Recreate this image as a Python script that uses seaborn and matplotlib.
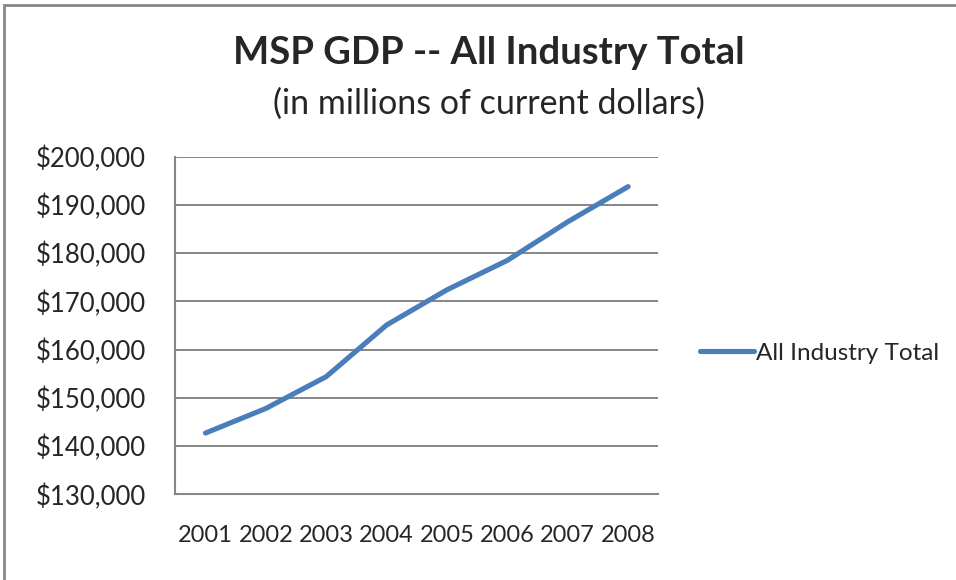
import pandas as pd
import matplotlib.pyplot as plt
import matplotlib.patches as patches
from matplotlib.ticker import FuncFormatter, FixedLocator
import seaborn as sns

# data (millions of current dollars)
years = ["2001", "2002", "2003", "2004", "2005", "2006", "2007", "2008"]
gdp = [142700, 147800, 154400, 165100, 172400, 178500, 186500, 193800]
series_name = "All Industry Total"

df = pd.DataFrame({"pos": range(len(years)), "year": years, "gdp": gdp, "series": series_name})

sns.set_style("white")
plt.rcParams["font.family"] = ["Lato", "DejaVu Sans"]

grey = "#868686"
blue = "#4A7EBB"

fig = plt.figure(figsize=(9.56, 5.8), dpi=100)
ax = fig.add_axes([175.3 / 956, 85.7 / 580, 483 / 956, 337.6 / 580])

sns.lineplot(data=df, x="pos", y="gdp", hue="series", palette=[blue],
             linewidth=3.7, solid_capstyle="round", ax=ax, legend=False)

ax.set_xlim(-0.5, len(years) - 0.5)
ax.set_ylim(130000, 200000)
ax.set_yticks(range(130000, 200001, 10000))
ax.yaxis.set_major_formatter(FuncFormatter(lambda v, p: f"${v:,.0f}"))

# category boundaries get tick marks, labels sit at the centres
ax.xaxis.set_major_locator(FixedLocator([i - 0.5 for i in range(len(years) + 1)]))
ax.xaxis.set_minor_locator(FixedLocator(list(range(len(years)))))
ax.set_xticklabels([])
ax.set_xticklabels(years, minor=True)
ax.tick_params(axis="x", which="major", length=6, width=1.5, color=grey, direction="out")
ax.tick_params(axis="x", which="minor", length=0, pad=22, labelsize=17)
ax.tick_params(axis="y", length=5, width=1.5, color=grey, direction="out", pad=16, labelsize=18.5)

ax.grid(axis="y", color=grey, linewidth=1.4)
ax.set_axisbelow(True)
for s in ["top", "right"]:
    ax.spines[s].set_visible(False)
for s in ["left", "bottom"]:
    ax.spines[s].set_color(grey)
    ax.spines[s].set_linewidth(1.5)
ax.set_xlabel("")
ax.set_ylabel("")

fig.text(0.511, 1 - 53 / 580, "MSP GDP -- All Industry Total", ha="center", va="center",
         fontsize=27.5, fontweight="bold")
fig.text(0.511, 1 - 104 / 580, "(in millions of current dollars)", ha="center", va="center",
         fontsize=24.5)

handle = plt.Line2D([], [], color=blue, linewidth=3.7, solid_capstyle="round")
fig.legend([handle], [series_name], loc="center left", frameon=False,
           bbox_to_anchor=(688 / 956, 1 - 353 / 580), fontsize=17.5,
           handlelength=2.2, handletextpad=0.1, borderpad=0)

# chart area border
fig.patches.append(patches.Rectangle((4 / 956, -0.1), 1.2, 1.1 - 5 / 580,
                                     transform=fig.transFigure, fill=False,
                                     edgecolor=grey, linewidth=2))

fig.savefig("out.png", dpi=100)
